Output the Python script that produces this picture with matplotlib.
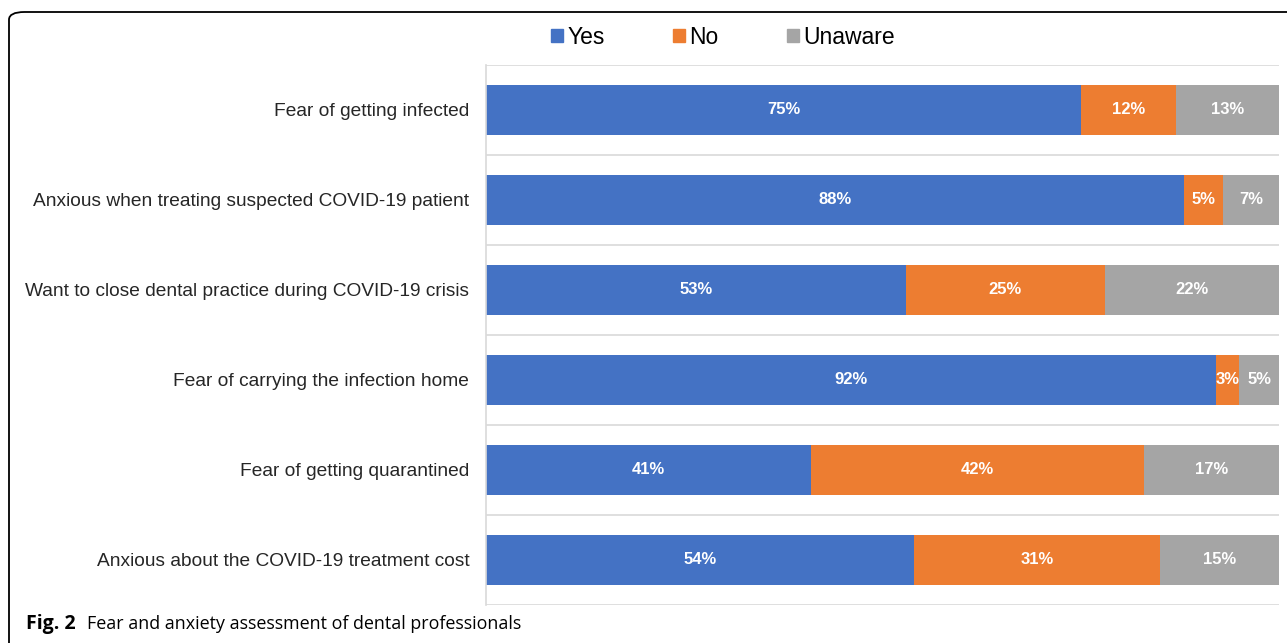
import numpy as np
import matplotlib
matplotlib.use("Agg")
import matplotlib.pyplot as plt
from matplotlib.patches import FancyBboxPatch, Patch

# Data
categories = ["Fear of getting infected",
              "Anxious when treating suspected COVID-19 patient",
              "Want to close dental practice during COVID-19 crisis",
              "Fear of carrying the infection home",
              "Fear of getting quarantined",
              "Anxious about the COVID-19 treatment cost"]
yes = [75, 88, 53, 92, 41, 54]
no = [12, 5, 25, 3, 42, 31]
unaware = [13, 7, 22, 5, 17, 15]
series_names = ["Yes", "No", "Unaware"]
colors = ["#4472C4", "#ED7D31", "#A5A5A5"]

plt.rcParams["font.family"] = ["Liberation Sans", "DejaVu Sans"]

fig = plt.figure(figsize=(12.87, 6.43), dpi=100)
W, H = 1287, 643
ax = fig.add_axes([486 / W, 38 / H, 793 / W, 540 / H])

y = np.arange(len(categories))
left = np.zeros(len(categories))
for vals, name, c in zip([yes, no, unaware], series_names, colors):
    vals = np.array(vals)
    ax.barh(y, vals, left=left, height=0.56, color=c, label=name)
    for yi, l, v in zip(y, left, vals):
        ax.text(l + v / 2, yi, f"{v}%", ha="center", va="center",
                color="white", fontsize=12, fontweight="bold")
    left = left + vals

ax.set_xlim(0, 100)
ax.set_ylim(len(categories) - 0.5, -0.5)
ax.set_yticks(y)
ax.set_yticklabels(categories, fontsize=13.8, color="#262626")
ax.tick_params(axis="y", length=0, pad=12)
ax.set_xticks([])
# horizontal separators between categories
for b in np.arange(-0.5, len(categories), 1.0):
    ax.axhline(b, color="#d9d9d9", lw=1.2, zorder=0)
for s in ["top", "right", "bottom"]:
    ax.spines[s].set_visible(False)
ax.spines["left"].set_color("#d9d9d9")
ax.spines["left"].set_linewidth(1.2)

# legend
handles = [Patch(color=c, label=n) for c, n in zip(colors, series_names)]
fig.legend(handles=handles, loc="center", bbox_to_anchor=(723 / W, 1 - 37 / H),
           ncol=3, frameon=False, fontsize=16.5, handlelength=0.5, handleheight=0.5,
           handletextpad=0.2, columnspacing=3.0)

# frame around the figure
frame = FancyBboxPatch((9 / W, -0.2), 1.2, 1 - 12 / H + 0.2,
                       boxstyle="round,pad=0,rounding_size=0.012",
                       transform=fig.transFigure, fill=False, ec="black", lw=1.3,
                       clip_on=False)
fig.patches.append(frame)

# caption
fig.text(26 / W, 1 - 624 / H, "Fig. 2", fontweight="bold", fontsize=14,
         family="Open Sans", va="center", ha="left")
fig.text(87 / W, 1 - 624 / H, "Fear and anxiety assessment of dental professionals",
         fontsize=12.9, family="Open Sans", va="center", ha="left")

fig.savefig("out.png", dpi=100)
